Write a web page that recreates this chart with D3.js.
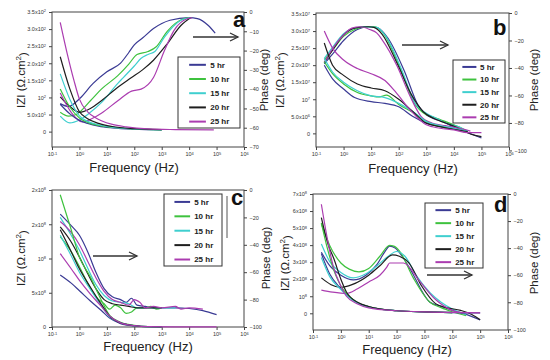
<!DOCTYPE html>
<html>
<head>
<meta charset="utf-8">
<script src="https://cdn.jsdelivr.net/npm/d3@7"></script>
<style>
  body { margin: 0; background: #fff; }
  svg { font-family: "Liberation Sans", Arial, sans-serif; }
</style>
</head>
<body>
<svg id="chart" width="550" height="360"></svg>
<script>
// ---- data ----
var series = ["5 hr", "10 hr", "15 hr", "20 hr", "25 hr"];
var colors = ["#3a3a94", "#3ec23e", "#3fcfcf", "#1e1e1e", "#ab3cb0"];

var freqTicks = [0.1, 1, 10, 100, 1e3, 1e4, 1e5, 1e6];
var freqLabels = ["10^-1", "10^0", "10^1", "10^2", "10^3", "10^4", "10^5", "10^6"];

// each series: [log10 frequency, value]
// panel a : |Z| in ohm.cm2, phase in deg
var aModulus = [
  [[-0.7,80],[-0.35,52],[0,33],[0.3,24],[0.7,16],[1.2,11],[2,7],[3,5]],
  [[-0.7,125],[-0.35,72],[0,40],[0.3,27],[0.7,18],[1.2,12],[2,8],[3,5]],
  [[-0.7,169],[-0.35,95],[0,46],[0.3,30],[0.7,20],[1.2,13],[2,8],[3,5]],
  [[-0.7,219],[-0.35,125],[0,58],[0.3,38],[0.7,24],[1.2,15],[2,9],[3,6]],
  [[-0.7,320],[-0.45,230],[-0.2,150],[0,95],[0.3,58],[0.6,40],[0.8,32],[1.2,21],[1.7,14],[2.5,8],[3.5,6],[4.9,5]]
];
var aPhase = [
  [[-0.7,-47.5],[-0.4,-49],[0,-45],[0.5,-37],[1,-31],[1.5,-26.5],[1.8,-21],[2,-17],[2.3,-13.5],[2.7,-8.6],[3.3,-4.3],[4,-2.9],[4.3,-3.4],[4.7,-7],[4.95,-11]],
  [[-0.7,-52],[-0.4,-54],[-0.1,-53],[0.4,-46],[0.8,-40],[1.4,-33],[1.8,-27],[2.1,-22],[2.5,-20.5],[2.8,-18],[3.2,-10],[3.8,-3.5],[4.05,-2.9]],
  [[-0.7,-54],[-0.35,-57.5],[0,-56],[0.4,-52],[0.8,-47],[1.4,-37],[1.6,-34],[2,-28],[2.25,-24],[2.5,-22],[2.75,-20.5],[3.1,-13],[3.7,-4.3],[4.05,-2.9]],
  [[-0.7,-44],[-0.35,-49],[0,-52],[0.4,-50],[0.8,-46],[1.4,-39],[1.9,-34],[2.3,-30],[2.7,-25],[3.2,-16.5],[3.7,-7],[4.05,-3]],
  [[-0.7,-42],[-0.3,-52],[0.1,-57],[0.5,-55],[0.8,-52.5],[1.4,-46],[1.9,-41],[2.25,-40],[2.7,-34],[3.1,-20],[3.45,-9.5],[3.95,-3.4],[4.1,-3]]
];

// panel b : |Z| in 1e6 ohm.cm2
var bModulus = [
  [[-0.7,20],[-0.4,16],[0,13],[0.4,10.5],[1,9.3],[1.5,8.8],[2,7.8],[2.5,5],[3,3],[3.5,2],[4,1.2],[4.5,0.5]],
  [[-0.7,21],[-0.4,17.5],[0,14.5],[0.5,12],[1,11],[1.3,10.7],[1.55,11.2],[2,8.5],[2.5,6.2],[3,3.5],[3.5,2],[4,1.2],[4.5,0.5]],
  [[-0.7,22],[-0.4,18],[0,15],[0.5,12.5],[1,11],[1.5,10.5],[2,8.8],[2.5,6.5],[3,3.5],[3.5,2.3],[4,1.5],[4.5,0.6]],
  [[-0.7,26.5],[-0.4,20],[0,17],[0.5,14.5],[1,13.3],[1.5,12.5],[2,10],[2.5,6.5],[3,3],[3.5,2],[4,1.2],[4.5,0.5]],
  [[-0.7,30],[-0.4,25],[0,21.5],[0.5,19],[1,17.5],[1.5,15.5],[1.9,12],[2.4,7],[3,2.5],[3.5,1.5],[4,1],[4.5,0.2],[5,0.2]]
];
var bPhase = [
  [[-0.7,-37],[-0.4,-30],[0,-20],[0.5,-12],[0.9,-10],[1.25,-11],[1.6,-18],[2.2,-42],[2.7,-67],[3,-74],[3.3,-77],[3.6,-79],[4,-83],[4.5,-87],[5,-91]],
  [[-0.7,-34],[-0.4,-27],[0,-17],[0.4,-12],[0.8,-10],[1.15,-10],[1.45,-15],[2.05,-40],[2.55,-65],[3,-74],[3.3,-76],[3.7,-79],[4.2,-83],[4.5,-86]],
  [[-0.7,-33],[-0.4,-25],[0,-15],[0.4,-11],[0.8,-10],[1.2,-10.5],[1.5,-16],[2.1,-41],[2.6,-66],[3,-73],[3.4,-77],[3.7,-80],[4.2,-83],[4.5,-86]],
  [[-0.7,-36],[-0.4,-27],[0,-16],[0.4,-11],[0.9,-10],[1.1,-10.5],[1.4,-15.5],[1.95,-37],[2.45,-59],[2.9,-72],[3.3,-77],[3.7,-80],[4.2,-84],[4.6,-88],[5,-90]],
  [[-0.7,-36],[-0.4,-26],[0,-16],[0.3,-11],[0.6,-10],[0.95,-12],[1.2,-14.5],[1.4,-19.5],[1.95,-39],[2.4,-60],[2.8,-75],[3.2,-80],[3.7,-82],[4.2,-84],[4.6,-86]]
];

// panel c : |Z| in 1e6 ohm.cm2
var cModulus = [
  [[-0.7,76],[-0.3,64],[0,53],[0.4,38],[0.8,24],[1.1,13],[1.5,5],[2,1.5],[2.5,0.5],[3,0.3]],
  [[-0.7,193],[-0.33,146],[0,102],[0.4,73],[0.8,39],[1.1,17],[1.5,7],[2,2.5],[2.5,0.5],[3,0.3]],
  [[-0.7,134],[-0.3,104],[0,80],[0.4,55],[0.8,31],[1.1,15],[1.5,6],[2,2],[2.5,0.5],[3,0.3]],
  [[-0.7,142],[-0.3,110],[0,85],[0.4,58],[0.8,33],[1.1,16],[1.5,6],[2,2],[2.5,0.5],[3,0.3]],
  [[-0.7,107],[-0.3,85],[0,68],[0.4,48],[0.8,30],[1.1,16],[1.5,6],[2,2],[2.5,0.5],[3.5,0.3],[5,0.3]]
];
var cPhase = [
  [[-0.7,-17.6],[-0.3,-26],[0,-33],[0.3,-45],[0.6,-60],[0.9,-72],[1.2,-78],[1.5,-80],[1.7,-82],[1.9,-79],[2.1,-84],[2.4,-85],[2.7,-86],[3,-86],[3.5,-86],[4,-86.5],[4.5,-88],[5,-91]],
  [[-0.7,-34],[-0.3,-45],[0,-56],[0.3,-68],[0.6,-78],[0.9,-83],[1.1,-87],[1.3,-84],[1.5,-86],[1.7,-90],[1.9,-89],[2.1,-86],[2.4,-86],[2.6,-85],[2.8,-87],[3,-86]],
  [[-0.7,-20],[-0.3,-33],[0,-44],[0.3,-57],[0.6,-69],[0.9,-77],[1.2,-81],[1.5,-82],[1.8,-83],[2.1,-86],[2.5,-86],[3,-86],[3.5,-86]],
  [[-0.7,-27],[-0.3,-38],[0,-49],[0.3,-61],[0.6,-72],[0.9,-80],[1.2,-83],[1.5,-84],[1.8,-85],[2.1,-86],[2.5,-86],[3,-86]],
  [[-0.7,-23],[-0.3,-31],[0,-40],[0.3,-52],[0.6,-64],[0.9,-74],[1.2,-80],[1.5,-82],[1.8,-84],[2,-80],[2.2,-82],[2.4,-86],[2.7,-85],[3,-86],[3.5,-85],[3.7,-87],[4,-86],[4.5,-87]]
];

// panel d : |Z| in 1e8 ohm.cm2
var dModulus = [
  [[-0.7,3.5],[-0.4,2.3],[0,1.45],[0.3,0.95],[0.6,0.62],[1,0.38],[2,0.15],[3,0.08],[4,0.04],[5,0.02]],
  [[-0.7,5.3],[-0.45,3.6],[-0.2,2.3],[0,1.6],[0.3,1.0],[0.6,0.62],[1,0.38],[2,0.15],[3,0.08],[4,0.04]],
  [[-0.7,3.27],[-0.4,2.15],[0,1.4],[0.3,0.92],[0.6,0.6],[1,0.37],[2,0.15],[3,0.08],[4,0.04]],
  [[-0.7,5.62],[-0.45,4.0],[-0.25,3.2],[0,2.0],[0.2,1.25],[0.6,0.65],[1,0.4],[2,0.15],[3,0.08],[4,0.04]],
  [[-0.7,6.4],[-0.5,4.5],[-0.28,2.8],[0,1.6],[0.2,1.0],[0.6,0.55],[1,0.32],[2,0.15],[3,0.08],[4,0.05],[5,0.03]]
];
var dPhase = [
  [[-0.7,-43],[-0.4,-53],[0,-60],[0.45,-63.5],[0.9,-60],[1.3,-52],[1.6,-42],[1.75,-38.5],[1.95,-40],[2.2,-46],[2.5,-56],[3.2,-80],[3.6,-83],[4,-86],[4.5,-89],[5,-93]],
  [[-0.7,-22],[-0.4,-38],[0,-51],[0.3,-55.5],[0.65,-57.5],[1,-55],[1.4,-46],[1.75,-38],[1.9,-38.5],[2.1,-42],[2.6,-62],[3.2,-80],[3.6,-84],[4,-87],[4.5,-90]],
  [[-0.7,-37],[-0.4,-50],[0,-58],[0.45,-62],[0.9,-59],[1.3,-53],[1.7,-46],[2,-42.5],[2.3,-46],[2.7,-60],[3.2,-73],[3.6,-80],[4,-85],[4.5,-89]],
  [[-0.7,-62],[-0.35,-67],[0,-69],[0.4,-67],[1,-60],[1.4,-53],[1.85,-45],[2.1,-46],[2.45,-51],[2.9,-68],[3.4,-81],[3.8,-84],[4.3,-86],[4.7,-89],[5,-93]],
  [[-0.7,-71],[-0.3,-72.5],[0.2,-73.5],[0.6,-70],[1,-65],[1.4,-60],[1.65,-54],[1.75,-51],[2.25,-51],[2.85,-65],[3.4,-78],[4,-86],[4.4,-88]]
];

var aLeftTicks = [0, 50, 100, 150, 200, 250, 300, 350];
var aLeftLabels = ["0", "5.0x10^1", "10^2", "1.5x10^2", "2.0x10^2", "2.5x10^2", "3.0x10^2", "3.5x10^2"];
var aRightTicks = [0, -10, -20, -30, -40, -50, -60, -70];

var bLeftTicks = [0, 5, 10, 15, 20, 25, 30, 35];
var bLeftLabels = ["0", "5.0x10^6", "10^7", "1.5x10^7", "2.0x10^7", "2.5x10^7", "3.0x10^7", "3.5x10^7"];
var bRightTicks = [0, -20, -40, -60, -80, -100];

var cLeftTicks = [0, 50, 100, 150, 200];
var cLeftLabels = ["0", "5x10^8", "10^8", "2x10^8", "2x10^8"];
var cRightTicks = [0, -20, -40, -60, -80, -100];

var dLeftTicks = [0, 1, 2, 3, 4, 5, 6, 7];
var dLeftLabels = ["0", "10^8", "2x10^8", "3x10^8", "4x10^8", "5x10^8", "6x10^8", "7x10^8"];
var dRightTicks = [0, -20, -40, -60, -80, -100];

// ---- layout ----
var panels = [
  { letter: "a", mod: aModulus, ph: aPhase, x0: 52, x1: 244, y0: 12, y1: 147,
    left: [-45, 350], lt: aLeftTicks, ll: aLeftLabels, right: [-70, 0], rt: aRightTicks,
    legend: [178, 57, 62, 71], letterPos: [233, 27], arrow: [193, 238, 37],
    zLabel: [21, 80], pLabel: [264, 80], fLabel: [134, 172] },
  { letter: "b", mod: bModulus, ph: bPhase, x0: 316, x1: 509, y0: 13, y1: 147,
    left: [-4, 35.3], lt: bLeftTicks, ll: bLeftLabels, right: [-97.5, 0], rt: bRightTicks,
    legend: [453, 60, 52, 63], letterPos: [493, 35], arrow: [402, 448, 45],
    zLabel: [280, 80], pLabel: [534, 80], fLabel: [413, 173] },
  { letter: "c", mod: cModulus, ph: cPhase, x0: 52, x1: 244, y0: 190, y1: 327,
    left: [0, 200], lt: cLeftTicks, ll: cLeftLabels, right: [-100, 0], rt: cRightTicks,
    legend: [164, 194, 58, 72], letterPos: [231, 205], arrow: [93, 137, 256],
    zLabel: [21, 258], pLabel: [266, 258], fLabel: [148, 351] },
  { letter: "d", mod: dModulus, ph: dPhase, x0: 313, x1: 508, y0: 194, y1: 330,
    left: [-0.98, 7], lt: dLeftTicks, ll: dLeftLabels, right: [-100.5, 0], rt: dRightTicks,
    legend: [425, 203, 58, 65], letterPos: [494, 212], arrow: [427, 472, 275],
    zLabel: [285, 263], pLabel: [534, 263], fLabel: [407, 354] }
];

var svg = d3.select("#chart");

function supText(sel, label) {
  sel.text(null);
  var parts = label.split("^");
  sel.append("tspan").text(parts[0]);
  if (parts.length > 1) {
    sel.append("tspan").attr("dy", "-0.45em").attr("font-size", "0.72em").text(parts[1]);
  }
}

function drawPanel(p) {
  var g = svg.append("g");
  var x = d3.scaleLog().domain([0.1, 1e6]).range([p.x0, p.x1]);
  var yL = d3.scaleLinear().domain(p.left).range([p.y1, p.y0]);
  var yR = d3.scaleLinear().domain(p.right).range([p.y1, p.y0]);

  // frame
  g.append("rect")
    .attr("x", p.x0).attr("y", p.y0)
    .attr("width", p.x1 - p.x0).attr("height", p.y1 - p.y0)
    .attr("fill", "none").attr("stroke", "#444").attr("stroke-width", 1);

  var tickFont = 5.5;

  var ax = g.append("g").attr("transform", "translate(0," + p.y1 + ")")
    .call(d3.axisBottom(x).tickValues(freqTicks).tickSize(3).tickPadding(2.5));
  ax.selectAll("text").each(function (d, i) { supText(d3.select(this), freqLabels[i]); });

  var al = g.append("g").attr("transform", "translate(" + p.x0 + ",0)")
    .call(d3.axisLeft(yL).tickValues(p.lt).tickSize(3).tickPadding(3));
  al.selectAll("text").each(function (d, i) { supText(d3.select(this), p.ll[i]); });

  var ar = g.append("g").attr("transform", "translate(" + p.x1 + ",0)")
    .call(d3.axisRight(yR).tickValues(p.rt).tickSize(3).tickPadding(2.5));

  [ax, al, ar].forEach(function (a) {
    a.select(".domain").remove();
    a.selectAll("line").attr("stroke", "#444");
    a.selectAll("text").attr("font-size", tickFont).attr("fill", "#333");
  });

  // curves
  var lineL = d3.line()
    .x(function (d) { return x(Math.pow(10, d[0])); })
    .y(function (d) { return yL(d[1]); })
    .curve(d3.curveMonotoneX);
  var lineR = d3.line()
    .x(function (d) { return x(Math.pow(10, d[0])); })
    .y(function (d) { return yR(d[1]); })
    .curve(d3.curveMonotoneX);

  g.selectAll(".ph").data(p.ph).enter().append("path")
    .attr("d", lineR).attr("fill", "none")
    .attr("stroke", function (d, i) { return colors[i]; })
    .attr("stroke-width", 1.2);
  g.selectAll(".mod").data(p.mod).enter().append("path")
    .attr("d", lineL).attr("fill", "none")
    .attr("stroke", function (d, i) { return colors[i]; })
    .attr("stroke-width", 1.2);

  // axis titles
  g.append("text")
    .attr("x", p.fLabel[0]).attr("y", p.fLabel[1])
    .attr("text-anchor", "middle").attr("font-size", 13).attr("fill", "#222")
    .text("Frequency (Hz)");

  var zt = g.append("text")
    .attr("transform", "translate(" + p.zLabel[0] + "," + p.zLabel[1] + ") rotate(-90)")
    .attr("text-anchor", "middle").attr("dy", "0.35em")
    .attr("font-size", 11.5).attr("fill", "#222");
  zt.append("tspan").text("IZI (\u03A9.cm");
  zt.append("tspan").attr("dy", "-0.45em").attr("font-size", "0.7em").text("2");
  zt.append("tspan").attr("dy", "0.45em").text(")");

  g.append("text")
    .attr("transform", "translate(" + p.pLabel[0] + "," + p.pLabel[1] + ") rotate(-90)")
    .attr("text-anchor", "middle").attr("dy", "0.35em")
    .attr("font-size", 11.5).attr("fill", "#222")
    .text("Phase (deg)");

  // legend
  var lg = g.append("g");
  lg.append("rect")
    .attr("x", p.legend[0]).attr("y", p.legend[1])
    .attr("width", p.legend[2]).attr("height", p.legend[3])
    .attr("fill", "#fff").attr("stroke", "#333").attr("stroke-width", 1);
  var step = p.legend[3] / series.length;
  series.forEach(function (s, i) {
    var yy = p.legend[1] + step * (i + 0.55);
    lg.append("line")
      .attr("x1", p.legend[0] + p.legend[2] * 0.18).attr("x2", p.legend[0] + p.legend[2] * 0.45)
      .attr("y1", yy).attr("y2", yy)
      .attr("stroke", colors[i]).attr("stroke-width", 2);
    lg.append("text")
      .attr("x", p.legend[0] + p.legend[2] * 0.52).attr("y", yy + 2.8)
      .attr("font-size", 8).attr("font-weight", "bold").attr("fill", "#222")
      .text(s);
  });

  // panel letter
  g.append("text")
    .attr("x", p.letterPos[0]).attr("y", p.letterPos[1])
    .attr("font-size", 22).attr("font-weight", "bold").attr("fill", "#111")
    .text(p.letter);

  // arrow
  var a = p.arrow;
  g.append("line").attr("x1", a[0]).attr("x2", a[1]).attr("y1", a[2]).attr("y2", a[2])
    .attr("stroke", "#333").attr("stroke-width", 1.3);
  g.append("path")
    .attr("d", "M" + (a[1] - 8) + "," + (a[2] - 4) + "L" + a[1] + "," + a[2] + "L" + (a[1] - 8) + "," + (a[2] + 4))
    .attr("fill", "none").attr("stroke", "#333").attr("stroke-width", 1.3);
}

panels.forEach(drawPanel);

// stray mark beside the c legend
svg.append("line").attr("x1", 227).attr("x2", 227).attr("y1", 196).attr("y2", 238)
  .attr("stroke", "#555").attr("stroke-width", 1);
</script>
</body>
</html>
